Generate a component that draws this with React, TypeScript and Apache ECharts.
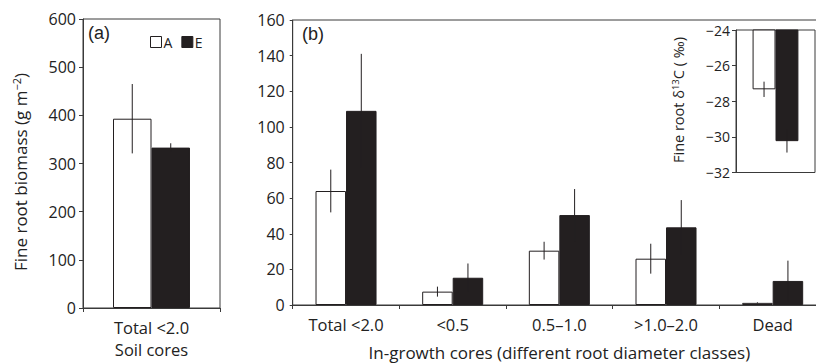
import React, { useEffect, useRef } from "react";
import * as echarts from "echarts";

// Panel (a): soil cores
const soilCategories = ["Total <2.0"];
const soilA = [393];
const soilAErr = [72];
const soilE = [333];
const soilEErr = [9];

// Panel (b): in-growth cores
const growthCategories = ["Total <2.0", "<0.5", "0.5–1.0", ">1.0–2.0", "Dead"];
const growthA = [64, 7.5, 30.5, 26, 1.2];
const growthAErr = [12, 2.8, 5, 8.4, 0.3];
const growthE = [109, 15.3, 50.5, 43.6, 13.5];
const growthEErr = [32, 8, 14.6, 15.3, 11.4];

// Inset: fine root δ13C
const insetCategories = ["δ13C"];
const insetA = [-27.33];
const insetAErr = [0.43];
const insetE = [-30.24];
const insetEErr = [0.64];

const FONT = "'Open Sans', 'Noto Sans', sans-serif";
const INK = "#231f20";
const AXIS = "#3a3a3a";
const TEXT = "#222";

const fmt = (v: number) => (v < 0 ? "\u2212" + Math.abs(v) : String(v));

function errSeries(
  xAxisIndex: number,
  vals: number[],
  errs: number[],
  side: number,
  frac: number
) {
  return {
    type: "custom",
    xAxisIndex,
    yAxisIndex: xAxisIndex,
    z: 5,
    silent: true,
    data: vals.map((v, i) => [i, v, errs[i]]),
    renderItem: (_params: any, api: any) => {
      const x = api.value(0);
      const v = api.value(1);
      const e = api.value(2);
      const hi = api.coord([x, v + e]);
      const lo = api.coord([x, v - e]);
      const band = api.size([1, 0])[0];
      const cx = hi[0] + (side * band * frac) / 2;
      return {
        type: "line",
        shape: { x1: cx, y1: hi[1], x2: cx, y2: lo[1] },
        style: { stroke: INK, lineWidth: 1 },
      };
    },
  };
}

export default function App() {
  const ref = useRef<HTMLDivElement>(null);
  useEffect(() => {
    if (!ref.current) return;
    const chart = echarts.init(ref.current, undefined, { renderer: "svg" });
    const fracA = 0.281;
    const fracB = 0.286;
    const fracI = 0.29;
    const tickLabel = { fontFamily: FONT, fontSize: 16, color: TEXT };
    const axisLine = { show: true, lineStyle: { color: AXIS, width: 1 } };
    const option: any = {
      animation: false,
      backgroundColor: "#fff",
      textStyle: { fontFamily: FONT },
      legend: {
        left: 150,
        top: 35,
        padding: 0,
        itemWidth: 11,
        itemHeight: 11,
        itemGap: 9,
        selectedMode: false,
        textStyle: { fontFamily: FONT, fontSize: 14, color: TEXT, padding: [0, 0, 0, -3] },
        data: [
          { name: "A", icon: "rect", itemStyle: { color: "#fff", borderColor: INK, borderWidth: 1 } },
          { name: "E", icon: "rect", itemStyle: { color: INK, borderColor: INK, borderWidth: 1 } },
        ],
      },
      grid: [
        { left: 83, top: 19, width: 137, height: 289, show: true, borderColor: AXIS, borderWidth: 1, outerBoundsMode: "none" },
        { left: 292.7, top: 20, width: 533.3, height: 285, show: true, borderColor: AXIS, borderWidth: 1, outerBoundsMode: "none" },
        { left: 736, top: 30, width: 79, height: 142.5, show: true, borderColor: AXIS, borderWidth: 1, backgroundColor: "#fff", outerBoundsMode: "none" },
      ],
      xAxis: [
        {
          type: "category",
          gridIndex: 0,
          data: soilCategories,
          axisLine,
          axisTick: { show: true, length: 4, lineStyle: { color: AXIS } },
          axisLabel: { ...tickLabel, fontSize: 16.5, margin: 11 },
          name: "Soil cores",
          nameLocation: "middle",
          nameGap: 33,
          nameTextStyle: { fontFamily: FONT, fontSize: 16.5, color: TEXT },
        },
        {
          type: "category",
          gridIndex: 1,
          data: growthCategories,
          axisLine,
          axisTick: { show: true, length: 4, lineStyle: { color: AXIS } },
          axisLabel: { ...tickLabel, fontSize: 16.5, margin: 11 },
          name: "In-growth cores (different root diameter classes)",
          nameLocation: "middle",
          nameGap: 39,
          nameTextStyle: { fontFamily: FONT, fontSize: 17, color: TEXT },
        },
        {
          type: "category",
          gridIndex: 2,
          data: insetCategories,
          axisLine: { show: false },
          axisTick: { show: false },
          axisLabel: { show: false },
        },
      ],
      yAxis: [
        {
          type: "value",
          gridIndex: 0,
          min: 0,
          max: 600,
          interval: 100,
          axisLine,
          axisTick: { show: true, length: 4, lineStyle: { color: AXIS } },
          splitLine: { show: false },
          axisLabel: { ...tickLabel, margin: 7, formatter: fmt },
        },
        {
          type: "value",
          gridIndex: 1,
          min: 0,
          max: 160,
          interval: 20,
          axisLine,
          axisTick: { show: true, length: 3, lineStyle: { color: AXIS } },
          splitLine: { show: false },
          axisLabel: { ...tickLabel, margin: 8, formatter: fmt },
        },
        {
          type: "value",
          gridIndex: 2,
          min: -32,
          max: -24,
          interval: 2,
          axisLine,
          axisTick: { show: true, length: 4, lineStyle: { color: AXIS } },
          splitLine: { show: false },
          axisLabel: { ...tickLabel, fontSize: 14, margin: 6, formatter: fmt },
        },
      ],
      series: [
        {
          name: "A", type: "bar", xAxisIndex: 0, yAxisIndex: 0, data: soilA,
          barWidth: fracA * 137, barGap: "0%",
          itemStyle: { color: "#fff", borderColor: INK, borderWidth: 1 },
        },
        {
          name: "E", type: "bar", xAxisIndex: 0, yAxisIndex: 0, data: soilE,
          barWidth: fracA * 137, barGap: "0%",
          itemStyle: { color: INK, borderColor: INK, borderWidth: 1 },
        },
        {
          name: "A", type: "bar", xAxisIndex: 1, yAxisIndex: 1, data: growthA,
          barWidth: fracB * 106.67, barGap: "0%",
          itemStyle: { color: "#fff", borderColor: INK, borderWidth: 1 },
        },
        {
          name: "E", type: "bar", xAxisIndex: 1, yAxisIndex: 1, data: growthE,
          barWidth: fracB * 106.67, barGap: "0%",
          itemStyle: { color: INK, borderColor: INK, borderWidth: 1 },
        },
        {
          name: "A", type: "bar", xAxisIndex: 2, yAxisIndex: 2, data: insetA,
          barWidth: fracI * 79, barGap: "0%", clip: true,
          itemStyle: { color: "#fff", borderColor: INK, borderWidth: 1 },
        },
        {
          name: "E", type: "bar", xAxisIndex: 2, yAxisIndex: 2, data: insetE,
          barWidth: fracI * 79, barGap: "0%", clip: true,
          itemStyle: { color: INK, borderColor: INK, borderWidth: 1 },
        },
        errSeries(0, soilA, soilAErr, -1, fracA),
        errSeries(0, soilE, soilEErr, 1, fracA),
        errSeries(1, growthA, growthAErr, -1, fracB),
        errSeries(1, growthE, growthEErr, 1, fracB),
        errSeries(2, insetA, insetAErr, -1, fracI),
        errSeries(2, insetE, insetEErr, 1, fracI),
      ],
      graphic: [
        {
          type: "text", left: 88, top: 24,
          style: { text: "(a)", font: "18px 'Liberation Sans', Arial, sans-serif", fill: TEXT },
        },
        {
          type: "text", left: 302, top: 25,
          style: { text: "(b)", font: "18px 'Liberation Sans', Arial, sans-serif", fill: TEXT },
        },
        {
          type: "text", x: 20, y: 172, rotation: Math.PI / 2,
          style: {
            text: "{n|Fine root biomass (g m}{s|\u22122}{n|)}",
            align: "center", verticalAlign: "middle",
            rich: {
              n: { fontFamily: FONT, fontSize: 17, fill: TEXT, lineHeight: 18, verticalAlign: "bottom" },
              s: { fontFamily: FONT, fontSize: 11, fill: TEXT, lineHeight: 11, verticalAlign: "top" },
            },
          },
        },
        {
          type: "text", x: 678, y: 100, rotation: Math.PI / 2,
          style: {
            text: "{n|Fine root \u03b4}{s|13}{n|C ( \u2030)}",
            align: "center", verticalAlign: "middle",
            rich: {
              n: { fontFamily: FONT, fontSize: 14.5, fill: TEXT, lineHeight: 15, verticalAlign: "bottom" },
              s: { fontFamily: FONT, fontSize: 9.5, fill: TEXT, lineHeight: 9, verticalAlign: "top" },
            },
          },
        },
      ],
    };
    chart.setOption(option);
    return () => chart.dispose();
  }, []);
  return (
    <div
      ref={ref}
      style={{ position: "absolute", left: 0, top: 0, width: 816, height: 363 }}
    />
  );
}
